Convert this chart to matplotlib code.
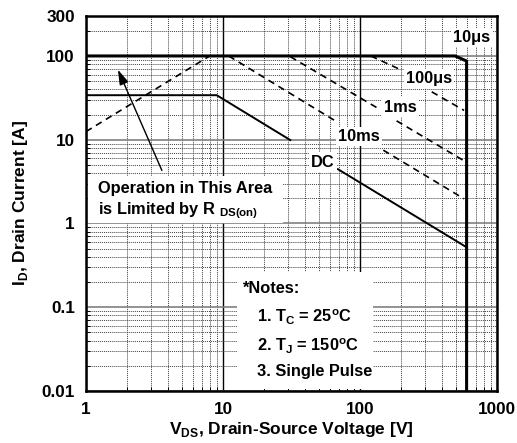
#!/usr/bin/env python3
"""
Maximum safe operating area, I_D vs V_DS (log-log)
"""

import numpy as np
import matplotlib

matplotlib.use("Agg")
import matplotlib.pyplot as plt
from matplotlib.patches import Rectangle
from matplotlib.ticker import FixedLocator, LogLocator, NullFormatter

plt.rcParams["font.family"] = ["Liberation Sans", "DejaVu Sans"]
plt.rcParams["font.weight"] = "bold"
plt.rcParams["mathtext.fontset"] = "custom"
plt.rcParams["mathtext.rm"] = "Liberation Sans:bold"
plt.rcParams["mathtext.bf"] = "Liberation Sans:bold"

# Boundary curves, V_DS [V] / I_D [A]
pulse_10us_v = [1, 494, 600, 600]
pulse_10us_i = [100, 100, 87, 0.01]

rds_on_v = [1, 8]
rds_on_i = [12.5, 100]

# pulse curves are broken where their labels sit
pulse_100us_v = [[120, 196], [334, 575]]
pulse_100us_i = [[100, 69], [37.3, 22.4]]

pulse_1ms_v = [[31, 136], [185, 575]]
pulse_1ms_i = [[98, 23.6], [16.8, 5.6]]

pulse_10ms_v = [[11, 67.6], [148, 575]]
pulse_10ms_i = [[100, 16.4], [7.5, 1.97]]

dc_v = [[1, 9, 31], [69, 600]]
dc_i = [[34, 34, 9.9], [4.45, 0.52]]

x_ticks = [1, 10, 100, 1000]
x_tick_labels = ["1", "10", "100", "1000"]
y_ticks = [0.01, 0.1, 1, 10, 100, 300]
y_tick_labels = ["0.01", "0.1", "1", "10", "100", "300"]

# label text and where it sits (V, I)
curve_labels = [
    ("10\u03bcs", 657, 167),
    ("100\u03bcs", 319, 54),
    ("1ms", 196, 24.5),
    ("10ms", 98, 11),
    ("DC", 53.7, 5.4),
]

fig = plt.figure(figsize=(5.17, 4.43), dpi=100)
ax = fig.add_axes([0.1663, 0.1174, 0.795, 0.8465])
ax.set_xscale("log")
ax.set_yscale("log")
ax.set_xlim(1, 1000)
ax.set_ylim(0.01, 300)

# Grid: dotted minor, solid major (vertical black, horizontal gray)
ax.xaxis.set_major_locator(FixedLocator(x_ticks))
ax.yaxis.set_major_locator(FixedLocator(y_ticks))
ax.xaxis.set_minor_locator(LogLocator(base=10, subs=np.arange(2, 10)))
ax.yaxis.set_minor_locator(LogLocator(base=10, subs=np.arange(2, 10)))
ax.xaxis.set_minor_formatter(NullFormatter())
ax.yaxis.set_minor_formatter(NullFormatter())
ax.set_xticklabels(x_tick_labels, fontsize=12.3, fontweight="bold")
ax.set_yticklabels(y_tick_labels, fontsize=12.3, fontweight="bold")
ax.grid(which="minor", color="0.25", linestyle=(0, (1, 1)), linewidth=0.7)
ax.xaxis.grid(which="major", color="black", linewidth=1.0)
ax.yaxis.grid(which="major", color="0.5", linewidth=1.2)
ax.set_axisbelow(True)
ax.tick_params(which="both", direction="in")
ax.tick_params(which="major", length=0, pad=8)
ax.tick_params(which="minor", length=3, width=0.7)
for spine in ax.spines.values():
    spine.set_linewidth(1.8)

# Limit curves
ax.plot(pulse_10us_v, pulse_10us_i, color="black", linewidth=2.2, zorder=4)
ax.plot(rds_on_v, rds_on_i, color="black", linewidth=1.2, linestyle=(0, (4, 3)))
for vs, cur in [
    (pulse_100us_v, pulse_100us_i),
    (pulse_1ms_v, pulse_1ms_i),
    (pulse_10ms_v, pulse_10ms_i),
]:
    for v, i in zip(vs, cur):
        ax.plot(v, i, color="black", linewidth=1.2, linestyle=(0, (4, 3)))
for v, i in zip(dc_v, dc_i):
    ax.plot(v, i, color="black", linewidth=1.4)

for text, v, i in curve_labels:
    ax.text(
        v, i, text, ha="center", va="center", fontsize=11.8, fontweight="bold",
        bbox=dict(facecolor="white", edgecolor="none", pad=1.5), zorder=5,
    )

# R_DS(on) annotation
ax.add_patch(Rectangle((0.005, 0.448), 0.474, 0.125, transform=ax.transAxes,
                       facecolor="white", edgecolor="none", zorder=3))
ax.text(1.22, 2.64, "Operation in This Area", ha="left", va="center",
        fontsize=11.8, fontweight="bold", zorder=5)
ax.text(1.22, 1.41, r"is Limited by R $_\mathbf{DS(on)}$", ha="left",
        va="center", fontsize=11.8, fontweight="bold", zorder=5)
ax.annotate("", xy=(1.68, 73.5), xytext=(3.65, 4.0),
            arrowprops=dict(arrowstyle="-|>,head_length=0.9,head_width=0.28",
                            color="black", linewidth=1.0), zorder=5)

# Test conditions
ax.add_patch(Rectangle((0.367, 0.005), 0.331, 0.312, transform=ax.transAxes,
                       facecolor="white", edgecolor="none", zorder=3))
notes = [
    (0.380, 0.274, "*Notes:"),
    (0.415, 0.196, r"1. T$_\mathbf{C}$ = 25$^\mathbf{o}$C"),
    (0.415, 0.120, r"2. T$_\mathbf{J}$ = 150$^\mathbf{o}$C"),
    (0.415, 0.052, "3. Single Pulse"),
]
for x, y, text in notes:
    ax.text(x, y, text, transform=ax.transAxes, ha="left", va="center",
            fontsize=11.8, fontweight="bold", zorder=5)

ax.set_xlabel(r"V$_\mathbf{DS}$, Drain-Source Voltage [V]", fontsize=12.5,
              fontweight="bold", labelpad=2)
ax.set_ylabel(r"I$_\mathbf{D}$, Drain Current [A]", fontsize=12.5,
              fontweight="bold", labelpad=8)

fig.savefig("out.png", dpi=100, facecolor="white")
